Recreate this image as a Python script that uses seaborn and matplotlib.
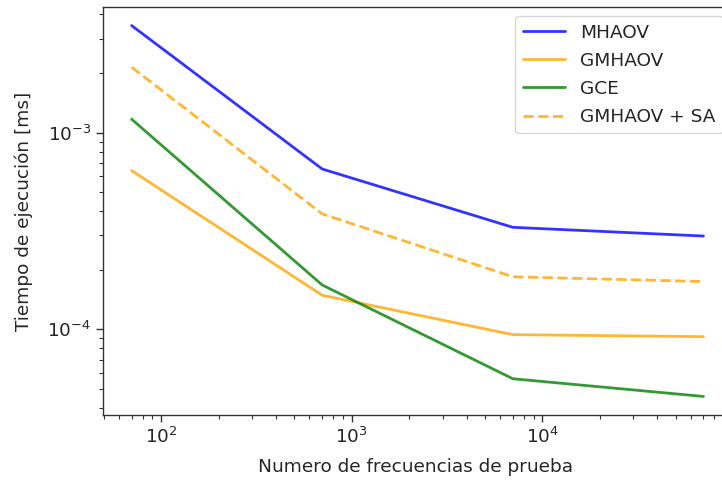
import matplotlib
matplotlib.use("Agg")
import matplotlib.pyplot as plt
import seaborn as sns
import pandas as pd

# Number of test frequencies
frecuencias = [70, 700, 7000, 70000]

# Execution time [ms] for each method
mhaov = [3.50e-3, 6.53e-4, 3.30e-4, 2.98e-4]
gmhaov = [6.41e-4, 1.49e-4, 9.40e-5, 9.18e-5]
gce = [1.17e-3, 1.68e-4, 5.61e-5, 4.56e-5]
gmhaov_sa = [2.15e-3, 3.86e-4, 1.85e-4, 1.75e-4]

metodos = ["MHAOV", "GMHAOV", "GCE", "GMHAOV + SA"]
series = [mhaov, gmhaov, gce, gmhaov_sa]

df = pd.DataFrame(
    [(f, t, m) for m, vals in zip(metodos, series) for f, t in zip(frecuencias, vals)],
    columns=["frecuencias", "tiempo", "metodo"],
)

sns.set_style("ticks")
plt.rcParams["font.family"] = ["DejaVu Sans"]
plt.rcParams["text.color"] = "#262626"
plt.rcParams["axes.labelcolor"] = "#262626"

fig = plt.figure(figsize=(7.22, 4.83), dpi=100)
ax = fig.add_axes([0.1427, 0.1408, 0.8712, 0.8447])

palette = {"MHAOV": "blue", "GMHAOV": "orange", "GCE": "green", "GMHAOV + SA": "orange"}
dashes = {"MHAOV": "", "GMHAOV": "", "GCE": "", "GMHAOV + SA": (3.7, 1.6)}

sns.lineplot(
    data=df, x="frecuencias", y="tiempo", hue="metodo", style="metodo",
    hue_order=metodos, style_order=metodos, palette=palette, dashes=dashes,
    linewidth=2.0, alpha=0.8, ax=ax,
)

ax.set_xscale("log")
ax.set_yscale("log")
ax.set_xlabel("Numero de frecuencias de prueba", fontsize=13.3)
ax.set_ylabel("Tiempo de ejecución [ms]", fontsize=13.3)
ax.yaxis.set_label_coords(-0.111, 0.5)
ax.xaxis.set_label_coords(0.497, -0.105)
ax.tick_params(axis="both", which="major", labelsize=13.3, length=5, width=1,
               color="#333333", labelcolor="#262626")
ax.tick_params(axis="both", which="minor", length=3, width=0.8, color="#333333")
for s in ax.spines.values():
    s.set_color("#333333")
    s.set_linewidth(1.0)

leg = ax.legend(title=None, fontsize=13.3, loc="upper right", frameon=True,
                handlelength=2.3, labelspacing=0.55)
leg.get_frame().set_edgecolor("#cccccc")

fig.savefig("out.png", dpi=100)
